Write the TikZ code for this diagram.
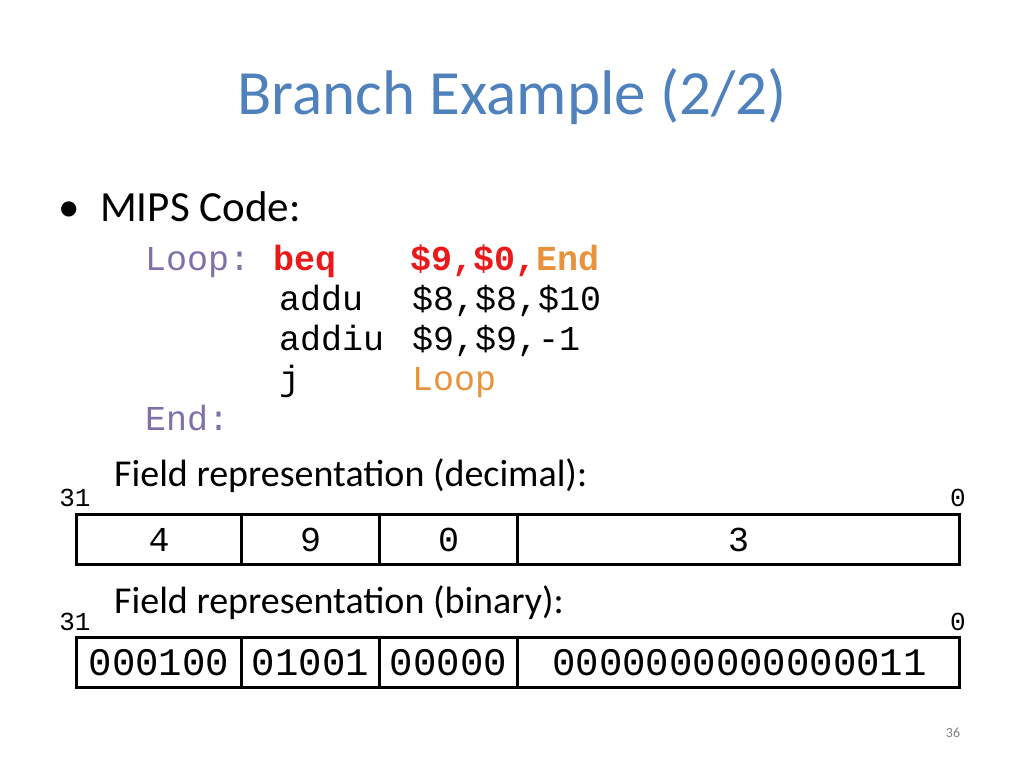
\documentclass[tikz,border=0pt]{standalone}
\usepackage{fontspec}
\setmainfont{Carlito}
\newfontfamily\codefont{Liberation Mono}
\definecolor{titleblue}{RGB}{79,129,189}
\definecolor{lblue}{RGB}{128,112,170}
\definecolor{lorange}{RGB}{232,146,60}
\definecolor{lred}{RGB}{235,25,25}
\begin{document}
\begin{tikzpicture}[x=1pt,y=-1pt,
  code/.style={font=\codefont\fontsize{35}{40}\selectfont, anchor=base west, inner sep=0},
  big/.style={font=\codefont\fontsize{39}{44}\selectfont, inner sep=0},
  mid/.style={font=\codefont\fontsize{35}{40}\selectfont, inner sep=0},
  lab/.style={font=\fontsize{38}{42}\selectfont, anchor=base west, inner sep=0},
  bit/.style={font=\codefont\fontsize{26}{30}\selectfont, anchor=base, inner sep=0},
  fieldbox/.style={draw, line width=3pt}]
\useasboundingbox (0,0) rectangle (1024,768);
\fill[white] (0,0) rectangle (1024,768);
\node[font=\fontsize{63}{70}\selectfont, text=titleblue, inner sep=0] (title) at (512,97) {Branch Example (2/2)};
\node[font=\fontsize{43}{48}\selectfont, anchor=base west, inner sep=0] (bul) at (58,221) {\textbullet};
\node[font=\fontsize{43}{48}\selectfont, anchor=base west, inner sep=0] (mips) at (100,221) {MIPS Code:};
\node[code, text=lblue] (l1) at (145,270) {Loop:};
\node[code, text=lred] (l1b) at (273,270) {\textbf{beq}};
\node[code, text=lred] (l1c) at (410,270) {\textbf{\$9,\$0,\textcolor{lorange}{End}}};
\node[code] (l2) at (279,310) {addu};
\node[code] (l2b) at (412,310) {\$8,\$8,\$10};
\node[code] (l3) at (279,350) {addiu};
\node[code] (l3b) at (412,350) {\$9,\$9,-1};
\node[code] (l4) at (279,390) {j};
\node[code, text=lorange] (l4b) at (412,390) {Loop};
\node[code, text=lblue] (l5) at (145,430) {End:};
\node[lab] (f1) at (114,486) {Field representation (decimal):};
\node[bit] (a31) at (75,506) {31};
\node[bit] (a0) at (958,506) {0};
\node[fieldbox, minimum width=165pt, minimum height=50pt, anchor=north west] (d1) at (75,513) {};
\node[fieldbox, minimum width=138pt, minimum height=50pt, anchor=north west] (d2) at (240,513) {};
\node[fieldbox, minimum width=138pt, minimum height=50pt, anchor=north west] (d3) at (378,513) {};
\node[fieldbox, minimum width=442pt, minimum height=50pt, anchor=north west] (d4) at (516,513) {};
\node[mid] at (d1) {4};
\node[mid] at (d2) {9};
\node[mid] at (d3) {0};
\node[mid] at (d4) {3};
\node[lab] (f2) at (114,613) {Field representation (binary):};
\node[bit] (b31) at (75,630) {31};
\node[bit] (b0) at (958,630) {0};
\node[fieldbox, minimum width=165pt, minimum height=50pt, anchor=north west] (e1) at (75,636) {};
\node[fieldbox, minimum width=138pt, minimum height=50pt, anchor=north west] (e2) at (240,636) {};
\node[fieldbox, minimum width=138pt, minimum height=50pt, anchor=north west] (e3) at (378,636) {};
\node[fieldbox, minimum width=442pt, minimum height=50pt, anchor=north west] (e4) at (516,636) {};
\node[big] at (e1) {000100};
\node[big] at (e2) {01001};
\node[big] at (e3) {00000};
\node[big] at ([xshift=1pt]e4) {0000000000000011};
\node[font=\fontsize{14}{16}\selectfont, text=gray, inner sep=0] (pg) at (953,733) {36};
\end{tikzpicture}
\end{document}
